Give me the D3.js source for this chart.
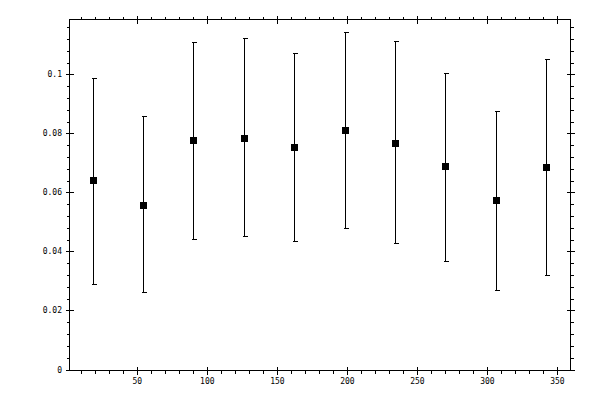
<!DOCTYPE html>
<html>
<head>
<meta charset="utf-8">
<script src="https://cdn.jsdelivr.net/npm/d3@7"></script>
<style>
  html, body { margin: 0; padding: 0; background: #ffffff; }
  svg text { font-family: "DejaVu Sans Mono", "Liberation Mono", monospace; font-size: 8px; fill: #000; }
</style>
</head>
<body>
<div id="chart"></div>
<script>
  var xValues = [18, 54, 90, 126, 162, 198, 234, 270, 306, 342];
  var yValues = [0.0641, 0.0559, 0.0776, 0.0786, 0.0753, 0.0810, 0.0769, 0.0688, 0.0573, 0.0685];
  var yLower  = [0.0288, 0.0261, 0.0441, 0.0451, 0.0437, 0.0478, 0.0427, 0.0369, 0.0271, 0.0319];
  var yUpper  = [0.0988, 0.0860, 0.1108, 0.1122, 0.1071, 0.1142, 0.1112, 0.1003, 0.0875, 0.1053];

  var xMajorTicks = [50, 100, 150, 200, 250, 300, 350];
  var xTickLabels = ['50', '100', '150', '200', '250', '300', '350'];
  var yMajorTicks = [0, 0.02, 0.04, 0.06, 0.08, 0.1];
  var yTickLabels = ['0', '0.02', '0.04', '0.06', '0.08', '0.1'];

  var W = 600, H = 400;
  var L = 69, R = 570, T = 19, B = 369.5;

  var svg = d3.select('#chart').append('svg')
    .attr('width', W)
    .attr('height', H)
    .style('display', 'block');

  var x = d3.scaleLinear().domain([1.2, 359]).range([L, R]);
  var y = d3.scaleLinear().domain([0, 0.11875]).range([B, T]);

  var px = function (v) { return Math.round(v) + 0.5; };

  var xMinor = d3.range(10, 359, 10).filter(function (d) { return d % 50 !== 0; });
  var yMinor = d3.range(0, 30).map(function (i) { return +(i * 0.004).toFixed(4); })
    .filter(function (d) { return y(d) >= T && Math.round(d * 1000) % 20 !== 0; });

  var axes = svg.append('g')
    .attr('stroke', '#000')
    .attr('stroke-width', 1)
    .attr('shape-rendering', 'crispEdges');

  // frame
  axes.append('rect')
    .attr('x', px(L)).attr('y', px(T))
    .attr('width', Math.round(R) - Math.round(L))
    .attr('height', Math.round(B) - Math.round(T))
    .attr('fill', 'none');

  // minor ticks, outside
  xMinor.forEach(function (d) {
    var xx = px(x(d));
    axes.append('line').attr('x1', xx).attr('x2', xx).attr('y1', px(B)).attr('y2', px(B) + 3);
    axes.append('line').attr('x1', xx).attr('x2', xx).attr('y1', px(T)).attr('y2', px(T) - 3);
  });
  yMinor.forEach(function (d) {
    var yy = px(y(d));
    axes.append('line').attr('y1', yy).attr('y2', yy).attr('x1', px(L)).attr('x2', px(L) - 3);
    axes.append('line').attr('y1', yy).attr('y2', yy).attr('x1', px(R)).attr('x2', px(R) + 3);
  });

  // major ticks, crossing
  xMajorTicks.forEach(function (d) {
    var xx = px(x(d));
    axes.append('line').attr('x1', xx).attr('x2', xx).attr('y1', px(B) - 4).attr('y2', px(B) + 4);
    axes.append('line').attr('x1', xx).attr('x2', xx).attr('y1', px(T) - 4).attr('y2', px(T) + 4);
  });
  yMajorTicks.forEach(function (d) {
    var yy = px(y(d));
    axes.append('line').attr('y1', yy).attr('y2', yy).attr('x1', px(L) - 4).attr('x2', px(L) + 4);
    axes.append('line').attr('y1', yy).attr('y2', yy).attr('x1', px(R) - 4).attr('x2', px(R) + 4);
  });

  // labels
  svg.append('g').selectAll('text')
    .data(xMajorTicks)
    .join('text')
    .attr('x', function (d) { return x(d); })
    .attr('y', 384)
    .attr('text-anchor', 'middle')
    .text(function (d, i) { return xTickLabels[i]; });

  svg.append('g').selectAll('text')
    .data(yMajorTicks)
    .join('text')
    .attr('x', 62)
    .attr('y', function (d) { return y(d) + 3; })
    .attr('text-anchor', 'end')
    .text(function (d, i) { return yTickLabels[i]; });

  // error bars
  var bars = svg.append('g')
    .attr('stroke', '#000')
    .attr('stroke-width', 1)
    .attr('shape-rendering', 'crispEdges');

  xValues.forEach(function (d, i) {
    var xx = px(x(d));
    bars.append('line').attr('x1', xx).attr('x2', xx)
      .attr('y1', px(y(yUpper[i]))).attr('y2', px(y(yLower[i])));
    bars.append('line').attr('x1', xx - 2).attr('x2', xx + 3)
      .attr('y1', px(y(yUpper[i]))).attr('y2', px(y(yUpper[i])));
    bars.append('line').attr('x1', xx - 2).attr('x2', xx + 3)
      .attr('y1', px(y(yLower[i]))).attr('y2', px(y(yLower[i])));
  });

  // markers
  svg.append('g').selectAll('rect')
    .data(xValues)
    .join('rect')
    .attr('x', function (d) { return Math.round(x(d)) - 3; })
    .attr('y', function (d, i) { return Math.round(y(yValues[i])) - 3; })
    .attr('width', 7)
    .attr('height', 7)
    .attr('fill', '#000')
    .attr('shape-rendering', 'crispEdges');
</script>
</body>
</html>
